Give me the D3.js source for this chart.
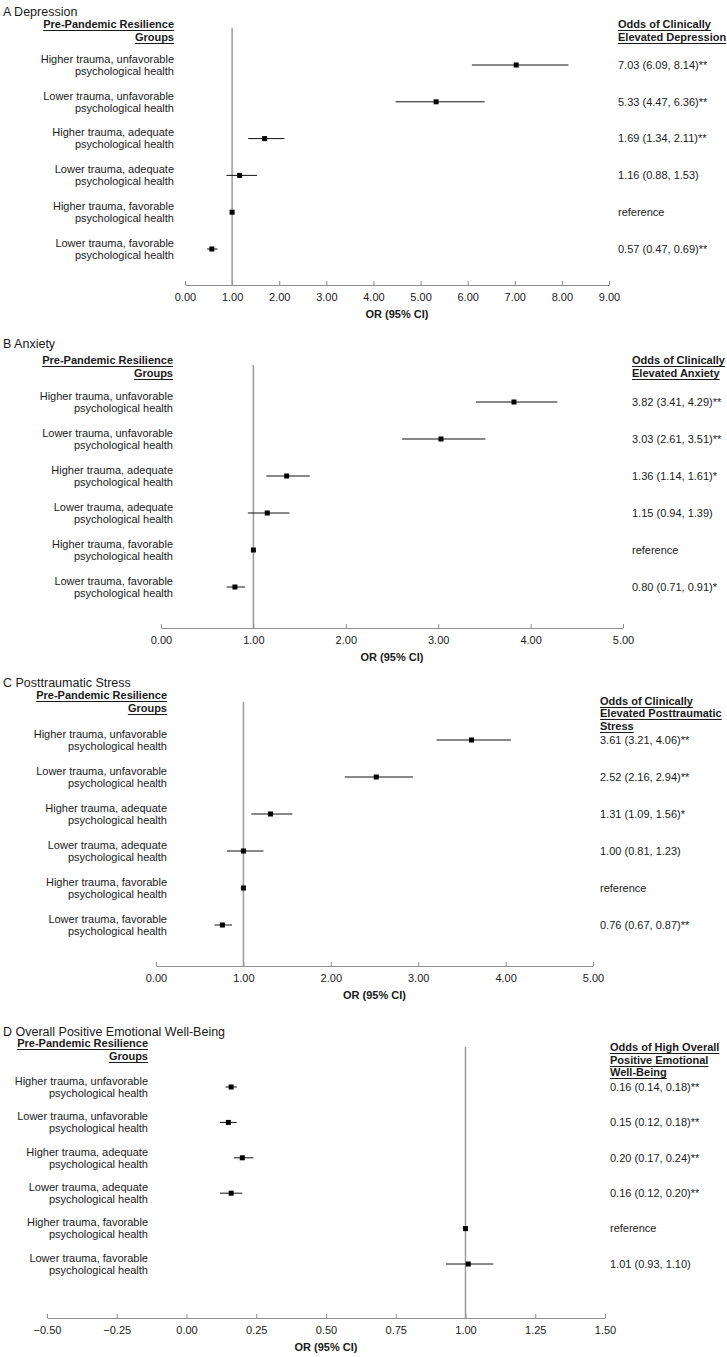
<!DOCTYPE html>
<meta charset="utf-8">
<style>
  body { margin: 0; background: #fff; }
  svg text { font-family: "Liberation Sans", Arial, sans-serif; fill: #1a1a1a; }
  .axis path, .axis line { stroke: #8e8e8e; stroke-width: 1; }
  .axis text { font-size: 11px; fill: #1a1a1a; }
</style>
<body>
<script src="https://d3js.org/d3.v7.min.js"></script>
<script>

  // Groups (row labels, same in every panel)
  var groups = [
    "Higher trauma, unfavorable|psychological health",
    "Lower trauma, unfavorable|psychological health",
    "Higher trauma, adequate|psychological health",
    "Lower trauma, adequate|psychological health",
    "Higher trauma, favorable|psychological health",
    "Lower trauma, favorable|psychological health"
  ];

  // A Depression
  var depOR  = [7.03, 5.33, 1.69, 1.16, 1.00, 0.57];
  var depLo  = [6.09, 4.47, 1.34, 0.88, 1.00, 0.47];
  var depHi  = [8.14, 6.36, 2.11, 1.53, 1.00, 0.69];
  var depSig = ["**", "**", "**", "", "ref", "**"];
  var depTicks = [0, 1, 2, 3, 4, 5, 6, 7, 8, 9];

  // B Anxiety
  var anxOR  = [3.82, 3.03, 1.36, 1.15, 1.00, 0.80];
  var anxLo  = [3.41, 2.61, 1.14, 0.94, 1.00, 0.71];
  var anxHi  = [4.29, 3.51, 1.61, 1.39, 1.00, 0.91];
  var anxSig = ["**", "**", "*", "", "ref", "*"];
  var anxTicks = [0, 1, 2, 3, 4, 5];

  // C Posttraumatic stress
  var ptsOR  = [3.61, 2.52, 1.31, 1.00, 1.00, 0.76];
  var ptsLo  = [3.21, 2.16, 1.09, 0.81, 1.00, 0.67];
  var ptsHi  = [4.06, 2.94, 1.56, 1.23, 1.00, 0.87];
  var ptsSig = ["**", "**", "*", "", "ref", "**"];
  var ptsTicks = [0, 1, 2, 3, 4, 5];

  // D Positive emotional well-being
  var pwbOR  = [0.16, 0.15, 0.20, 0.16, 1.00, 1.01];
  var pwbLo  = [0.14, 0.12, 0.17, 0.12, 1.00, 0.93];
  var pwbHi  = [0.18, 0.18, 0.24, 0.20, 1.00, 1.10];
  var pwbSig = ["**", "**", "**", "**", "ref", ""];
  var pwbTicks = [-0.5, -0.25, 0, 0.25, 0.5, 0.75, 1, 1.25, 1.5];

  var titles = ["A Depression", "B Anxiety", "C Posttraumatic Stress", "D Overall Positive Emotional Well-Being"];
  var leftHead = ["Pre-Pandemic Resilience", "Groups"];
  var rightHeads = [
    ["Odds of Clinically", "Elevated Depression"],
    ["Odds of Clinically", "Elevated Anxiety"],
    ["Odds of Clinically", "Elevated Posttraumatic", "Stress"],
    ["Odds of High Overall", "Positive Emotional", "Well-Being"]
  ];
  var axisTitle = "OR (95% CI)";

  //Layout of each panel (pixels)
  var layout = [
    {titleY: 12,   headY: [24, 37],     rHeadY: [24, 37],         top: 28,   rows: [65, 249],    axisY: 285,  x: [185, 609], labelX: 174, valueX: 618},
    {titleY: 344,  headY: [360, 373],   rHeadY: [360, 373],       top: 365,  rows: [402, 587],   axisY: 628,  x: [161, 623], labelX: 173, valueX: 632},
    {titleY: 683,  headY: [695, 708],   rHeadY: [701, 713, 726],  top: 702,  rows: [740, 925],   axisY: 966,  x: [156, 593], labelX: 167, valueX: 600},
    {titleY: 1032, headY: [1043, 1056], rHeadY: [1047, 1060, 1072], top: 1047, rows: [1087, 1264], axisY: 1318, x: [47, 605],  labelX: 148, valueX: 610}
  ];

  var panels = [
    {or: depOR, lo: depLo, hi: depHi, sig: depSig, ticks: depTicks},
    {or: anxOR, lo: anxLo, hi: anxHi, sig: anxSig, ticks: anxTicks},
    {or: ptsOR, lo: ptsLo, hi: ptsHi, sig: ptsSig, ticks: ptsTicks},
    {or: pwbOR, lo: pwbLo, hi: pwbHi, sig: pwbSig, ticks: pwbTicks}
  ];

  var fmt = d3.format(".2f");

  var svg = d3.select("body")
              .append("svg")
              .attr("width", 727)
              .attr("height", 1357);

  //Draws an underlined bold header line
  function boldLine(g, txt, x, y, anchor) {
    var t = g.append("text")
             .attr("x", x)
             .attr("y", y)
             .attr("dy", "0.35em")
             .attr("text-anchor", anchor)
             .attr("font-size", "11px")
             .attr("font-weight", "bold")
             .text(txt);
    var w = t.node().getComputedTextLength();
    var x0 = anchor == "end" ? x - w : x;
    g.append("line")
     .attr("x1", x0).attr("x2", x0 + w)
     .attr("y1", y + 6.5).attr("y2", y + 6.5)
     .attr("stroke", "#1a1a1a")
     .attr("stroke-width", 1);
  }

  panels.forEach(function(p, k) {
    var L = layout[k];
    var g = svg.append("g");

    var x = d3.scaleLinear()
              .domain([p.ticks[0], p.ticks[p.ticks.length - 1]])
              .range(L.x);
    var y = d3.scalePoint()
              .domain(d3.range(groups.length))
              .range(L.rows);

    //Panel title
    g.append("text")
     .attr("x", 3)
     .attr("y", L.titleY)
     .attr("dy", "0.35em")
     .attr("font-size", "12.5px")
     .text(titles[k]);

    //Column headers
    leftHead.forEach(function(s, i) { boldLine(g, s, L.labelX, L.headY[i], "end"); });
    rightHeads[k].forEach(function(s, i) { boldLine(g, s, L.valueX, L.rHeadY[i], "start"); });

    //Row labels
    groups.forEach(function(s, i) {
      var parts = s.split("|");
      parts.forEach(function(line, j) {
        g.append("text")
         .attr("x", L.labelX)
         .attr("y", y(i) - 6 + j * 12)
         .attr("dy", "0.35em")
         .attr("text-anchor", "end")
         .attr("font-size", "11px")
         .text(line);
      });
    });

    //Axis
    g.append("g")
     .attr("class", "axis")
     .attr("transform", "translate(0," + L.axisY + ")")
     .call(d3.axisBottom(x)
             .tickValues(p.ticks)
             .tickFormat(fmt)
             .tickSizeInner(-4)
             .tickSizeOuter(0)
             .tickPadding(8));

    g.append("text")
     .attr("x", (L.x[0] + L.x[1]) / 2)
     .attr("y", L.axisY + 29)
     .attr("dy", "0.35em")
     .attr("text-anchor", "middle")
     .attr("font-size", "11px")
     .attr("font-weight", "bold")
     .text(axisTitle);

    //Reference line at OR = 1
    g.append("line")
     .attr("x1", x(1)).attr("x2", x(1))
     .attr("y1", L.top).attr("y2", L.axisY)
     .attr("stroke", "#9a9a9a")
     .attr("stroke-width", 1.5);

    var idx = d3.range(groups.length);

    //Confidence intervals
    g.selectAll(".ci")
     .data(idx)
     .enter()
     .append("line")
     .attr("x1", function(i) { return x(p.lo[i]); })
     .attr("x2", function(i) { return x(p.hi[i]); })
     .attr("y1", function(i) { return y(i); })
     .attr("y2", function(i) { return y(i); })
     .attr("stroke", "#111")
     .attr("stroke-width", 1);

    //Point estimates
    g.selectAll(".pt")
     .data(idx)
     .enter()
     .append("rect")
     .attr("x", function(i) { return x(p.or[i]) - 2.5; })
     .attr("y", function(i) { return y(i) - 2.5; })
     .attr("width", 5)
     .attr("height", 5)
     .attr("fill", "#000");

    //Value labels
    g.selectAll(".val")
     .data(idx)
     .enter()
     .append("text")
     .attr("x", L.valueX)
     .attr("y", function(i) { return y(i); })
     .attr("dy", "0.35em")
     .attr("font-size", "11px")
     .text(function(i) {
       if (p.sig[i] == "ref") return "reference";
       return fmt(p.or[i]) + " (" + fmt(p.lo[i]) + ", " + fmt(p.hi[i]) + ")" + p.sig[i];
     });
  });

</script>
</body>
